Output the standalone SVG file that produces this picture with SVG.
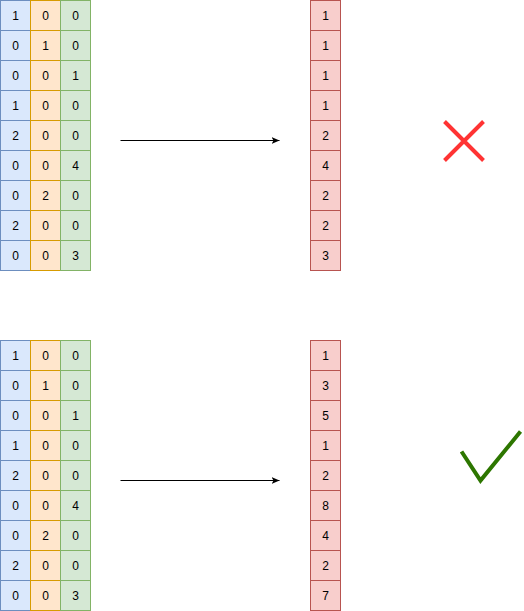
<svg xmlns="http://www.w3.org/2000/svg" width="524" height="611" viewBox="0 0 524 611">
<style>
.b{fill:#dae8fc;stroke:#6c8ebf}
.y{fill:#ffe6cc;stroke:#d79b00}
.g{fill:#d5e8d4;stroke:#82b366}
.r{fill:#f8cecc;stroke:#b85450}
text{font-family:"Liberation Sans",Arial,sans-serif;font-size:12px;fill:#000;text-anchor:middle;dominant-baseline:central}
.conn{stroke:#000;stroke-width:1;fill:none}
</style>
<defs>
<marker id="ah" markerWidth="10" markerHeight="10" refX="8" refY="4" orient="auto" markerUnits="userSpaceOnUse">
<path d="M0,0.5 L8,4 L0,7.5 L2,4 Z" fill="#000"/>
</marker>
<g id="cb"><rect class="b" width="30" height="30"/></g>
</defs>
<rect width="524" height="611" fill="#fff"/>
<g transform="translate(0.5,0.5)">
<g id="matrix1">
<rect class="b" x="0" y="0" width="30" height="30"/><text x="15" y="15">1</text>
<rect class="y" x="30" y="0" width="30" height="30"/><text x="45" y="15">0</text>
<rect class="g" x="60" y="0" width="30" height="30"/><text x="75" y="15">0</text>
<rect class="b" x="0" y="30" width="30" height="30"/><text x="15" y="45">0</text>
<rect class="y" x="30" y="30" width="30" height="30"/><text x="45" y="45">1</text>
<rect class="g" x="60" y="30" width="30" height="30"/><text x="75" y="45">0</text>
<rect class="b" x="0" y="60" width="30" height="30"/><text x="15" y="75">0</text>
<rect class="y" x="30" y="60" width="30" height="30"/><text x="45" y="75">0</text>
<rect class="g" x="60" y="60" width="30" height="30"/><text x="75" y="75">1</text>
<rect class="b" x="0" y="90" width="30" height="30"/><text x="15" y="105">1</text>
<rect class="y" x="30" y="90" width="30" height="30"/><text x="45" y="105">0</text>
<rect class="g" x="60" y="90" width="30" height="30"/><text x="75" y="105">0</text>
<rect class="b" x="0" y="120" width="30" height="30"/><text x="15" y="135">2</text>
<rect class="y" x="30" y="120" width="30" height="30"/><text x="45" y="135">0</text>
<rect class="g" x="60" y="120" width="30" height="30"/><text x="75" y="135">0</text>
<rect class="b" x="0" y="150" width="30" height="30"/><text x="15" y="165">0</text>
<rect class="y" x="30" y="150" width="30" height="30"/><text x="45" y="165">0</text>
<rect class="g" x="60" y="150" width="30" height="30"/><text x="75" y="165">4</text>
<rect class="b" x="0" y="180" width="30" height="30"/><text x="15" y="195">0</text>
<rect class="y" x="30" y="180" width="30" height="30"/><text x="45" y="195">2</text>
<rect class="g" x="60" y="180" width="30" height="30"/><text x="75" y="195">0</text>
<rect class="b" x="0" y="210" width="30" height="30"/><text x="15" y="225">2</text>
<rect class="y" x="30" y="210" width="30" height="30"/><text x="45" y="225">0</text>
<rect class="g" x="60" y="210" width="30" height="30"/><text x="75" y="225">0</text>
<rect class="b" x="0" y="240" width="30" height="30"/><text x="15" y="255">0</text>
<rect class="y" x="30" y="240" width="30" height="30"/><text x="45" y="255">0</text>
<rect class="g" x="60" y="240" width="30" height="30"/><text x="75" y="255">3</text>
</g>
<g id="result1">
<rect class="r" x="310" y="0" width="30" height="30"/><text x="325" y="15">1</text>
<rect class="r" x="310" y="30" width="30" height="30"/><text x="325" y="45">1</text>
<rect class="r" x="310" y="60" width="30" height="30"/><text x="325" y="75">1</text>
<rect class="r" x="310" y="90" width="30" height="30"/><text x="325" y="105">1</text>
<rect class="r" x="310" y="120" width="30" height="30"/><text x="325" y="135">2</text>
<rect class="r" x="310" y="150" width="30" height="30"/><text x="325" y="165">4</text>
<rect class="r" x="310" y="180" width="30" height="30"/><text x="325" y="195">2</text>
<rect class="r" x="310" y="210" width="30" height="30"/><text x="325" y="225">2</text>
<rect class="r" x="310" y="240" width="30" height="30"/><text x="325" y="255">3</text>
</g>
<g id="matrix2">
<rect class="b" x="0" y="340" width="30" height="30"/><text x="15" y="355">1</text>
<rect class="y" x="30" y="340" width="30" height="30"/><text x="45" y="355">0</text>
<rect class="g" x="60" y="340" width="30" height="30"/><text x="75" y="355">0</text>
<rect class="b" x="0" y="370" width="30" height="30"/><text x="15" y="385">0</text>
<rect class="y" x="30" y="370" width="30" height="30"/><text x="45" y="385">1</text>
<rect class="g" x="60" y="370" width="30" height="30"/><text x="75" y="385">0</text>
<rect class="b" x="0" y="400" width="30" height="30"/><text x="15" y="415">0</text>
<rect class="y" x="30" y="400" width="30" height="30"/><text x="45" y="415">0</text>
<rect class="g" x="60" y="400" width="30" height="30"/><text x="75" y="415">1</text>
<rect class="b" x="0" y="430" width="30" height="30"/><text x="15" y="445">1</text>
<rect class="y" x="30" y="430" width="30" height="30"/><text x="45" y="445">0</text>
<rect class="g" x="60" y="430" width="30" height="30"/><text x="75" y="445">0</text>
<rect class="b" x="0" y="460" width="30" height="30"/><text x="15" y="475">2</text>
<rect class="y" x="30" y="460" width="30" height="30"/><text x="45" y="475">0</text>
<rect class="g" x="60" y="460" width="30" height="30"/><text x="75" y="475">0</text>
<rect class="b" x="0" y="490" width="30" height="30"/><text x="15" y="505">0</text>
<rect class="y" x="30" y="490" width="30" height="30"/><text x="45" y="505">0</text>
<rect class="g" x="60" y="490" width="30" height="30"/><text x="75" y="505">4</text>
<rect class="b" x="0" y="520" width="30" height="30"/><text x="15" y="535">0</text>
<rect class="y" x="30" y="520" width="30" height="30"/><text x="45" y="535">2</text>
<rect class="g" x="60" y="520" width="30" height="30"/><text x="75" y="535">0</text>
<rect class="b" x="0" y="550" width="30" height="30"/><text x="15" y="565">2</text>
<rect class="y" x="30" y="550" width="30" height="30"/><text x="45" y="565">0</text>
<rect class="g" x="60" y="550" width="30" height="30"/><text x="75" y="565">0</text>
<rect class="b" x="0" y="580" width="30" height="30"/><text x="15" y="595">0</text>
<rect class="y" x="30" y="580" width="30" height="30"/><text x="45" y="595">0</text>
<rect class="g" x="60" y="580" width="30" height="30"/><text x="75" y="595">3</text>
</g>
<g id="result2">
<rect class="r" x="310" y="340" width="30" height="30"/><text x="325" y="355">1</text>
<rect class="r" x="310" y="370" width="30" height="30"/><text x="325" y="385">3</text>
<rect class="r" x="310" y="400" width="30" height="30"/><text x="325" y="415">5</text>
<rect class="r" x="310" y="430" width="30" height="30"/><text x="325" y="445">1</text>
<rect class="r" x="310" y="460" width="30" height="30"/><text x="325" y="475">2</text>
<rect class="r" x="310" y="490" width="30" height="30"/><text x="325" y="505">8</text>
<rect class="r" x="310" y="520" width="30" height="30"/><text x="325" y="535">4</text>
<rect class="r" x="310" y="550" width="30" height="30"/><text x="325" y="565">2</text>
<rect class="r" x="310" y="580" width="30" height="30"/><text x="325" y="595">7</text>
</g>
<g id="connectors">
<line class="conn" x1="120" y1="140" x2="279" y2="140" marker-end="url(#ah)"/>
<line class="conn" x1="120" y1="480" x2="279" y2="480" marker-end="url(#ah)"/>
</g>
<g id="cross">
<path d="M444,121 L483,160 M483,121 L444,160" stroke="#ff3333" stroke-width="4" fill="none"/>
</g>
<g id="check">
<path d="M461,451 L480,480 L520,431" stroke="#2d7600" stroke-width="4" fill="none"/>
</g>
</g>
</svg>
